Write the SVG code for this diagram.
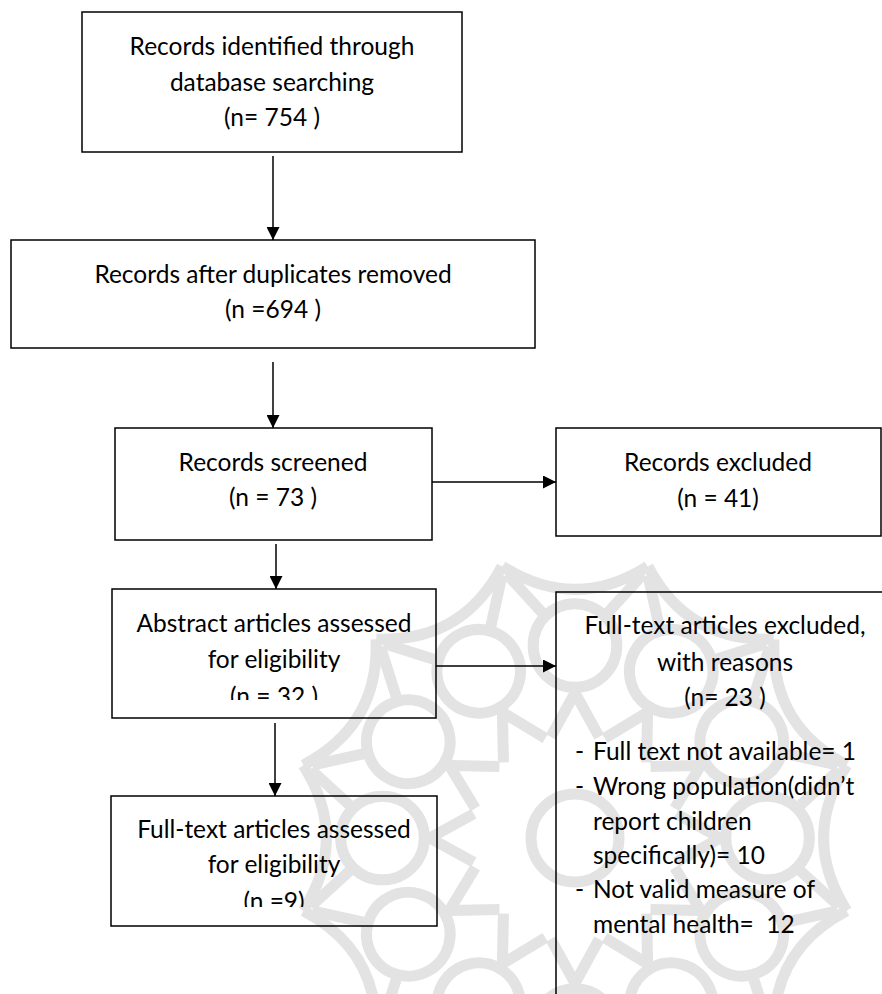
<svg xmlns="http://www.w3.org/2000/svg" width="882" height="994" viewBox="0 0 882 994">
<style>
.box{fill:none;stroke:#000;stroke-width:1.5}
.t{font-family:Lato,"Liberation Sans",sans-serif;font-size:24.5px;fill:#000}
.c{text-anchor:middle}
.conn{stroke:#000;stroke-width:1.5;fill:none}
.wm{fill:none;stroke:#e3e3e3;stroke-width:10}
</style>
<defs>
<marker id="ah" markerWidth="13" markerHeight="13" refX="13" refY="6.5" orient="auto" markerUnits="userSpaceOnUse">
<path d="M0,0 L13,6.5 L0,13 Z" fill="#000"/>
</marker>
<clipPath id="clip5"><rect x="112" y="589" width="324" height="111"/></clipPath>
<clipPath id="clip7"><rect x="111" y="796" width="326" height="111"/></clipPath>
<g id="motif">
<circle cx="0" cy="-175" r="38"/>
<path d="M-22,-92 L0,-132 L22,-92"/>
<path d="M-66,-247 Q0,-205 66,-247"/>
<path d="M-30,-205 L-62,-240 M30,-205 L62,-240"/>
</g>
</defs>
<rect width="882" height="994" fill="#fff"/>
<g id="watermark" class="wm" transform="translate(575,838) scale(1.1)">
<circle cx="0" cy="0" r="40"/>
<use href="#motif"/>
<use href="#motif" transform="rotate(30)"/>
<use href="#motif" transform="rotate(60)"/>
<use href="#motif" transform="rotate(90)"/>
<use href="#motif" transform="rotate(120)"/>
<use href="#motif" transform="rotate(150)"/>
<use href="#motif" transform="rotate(180)"/>
<use href="#motif" transform="rotate(210)"/>
<use href="#motif" transform="rotate(240)"/>
<use href="#motif" transform="rotate(270)"/>
<use href="#motif" transform="rotate(300)"/>
<use href="#motif" transform="rotate(330)"/>
</g>
<g id="n1">
<rect class="box" x="82" y="12" width="380" height="140"/>
<text class="t c" x="272" y="55">Records identified through</text>
<text class="t c" x="272" y="91">database searching</text>
<text class="t c" x="272" y="126">(n= 754 )</text>
</g>
<g id="n2">
<rect class="box" x="11" y="240" width="524" height="108"/>
<text class="t c" x="273" y="283">Records after duplicates removed</text>
<text class="t c" x="273" y="318">(n =694 )</text>
</g>
<g id="n3">
<rect class="box" x="115" y="428" width="317" height="112"/>
<text class="t c" x="273" y="471">Records screened</text>
<text class="t c" x="273" y="506">(n = 73 )</text>
</g>
<g id="n4">
<rect class="box" x="556" y="428" width="325" height="108"/>
<text class="t c" x="718" y="471">Records excluded</text>
<text class="t c" x="718" y="507">(n = 41)</text>
</g>
<g id="n5">
<rect class="box" x="112" y="589" width="324" height="129"/>
<text class="t c" x="274" y="632">Abstract articles assessed</text>
<text class="t c" x="274" y="668">for eligibility</text>
<text class="t c" x="274" y="705" clip-path="url(#clip5)">(n = 32 )</text>
</g>
<g id="n6">
<rect class="box" x="556" y="592" width="340" height="420"/>
<text class="t c" x="725" y="634">Full-text articles excluded,</text>
<text class="t c" x="725" y="671">with reasons</text>
<text class="t c" x="725" y="706">(n= 23 )</text>
<text class="t" x="575" y="760">-</text><text class="t" x="593" y="760">Full text not available= 1</text>
<text class="t" x="575" y="795">-</text><text class="t" x="593" y="795">Wrong population(didn’t</text>
<text class="t" x="593" y="830">report children</text>
<text class="t" x="593" y="864">specifically)= 10</text>
<text class="t" x="575" y="898">-</text><text class="t" x="593" y="898">Not valid measure of</text>
<text class="t" x="593" y="933">mental health=&#160; 12</text>
</g>
<g id="n7">
<rect class="box" x="111" y="796" width="326" height="130"/>
<text class="t c" x="274" y="838">Full-text articles assessed</text>
<text class="t c" x="274" y="873">for eligibility</text>
<text class="t c" x="274" y="910" clip-path="url(#clip7)">(n =9)</text>
</g>
<g id="connectors">
<line class="conn" x1="273" y1="156" x2="273" y2="240" marker-end="url(#ah)"/>
<line class="conn" x1="273" y1="362" x2="273" y2="428" marker-end="url(#ah)"/>
<line class="conn" x1="432" y1="482" x2="556" y2="482" marker-end="url(#ah)"/>
<line class="conn" x1="276" y1="544" x2="276" y2="589" marker-end="url(#ah)"/>
<line class="conn" x1="436" y1="666" x2="556" y2="666" marker-end="url(#ah)"/>
<line class="conn" x1="275" y1="723" x2="275" y2="796" marker-end="url(#ah)"/>
</g>
</svg>
